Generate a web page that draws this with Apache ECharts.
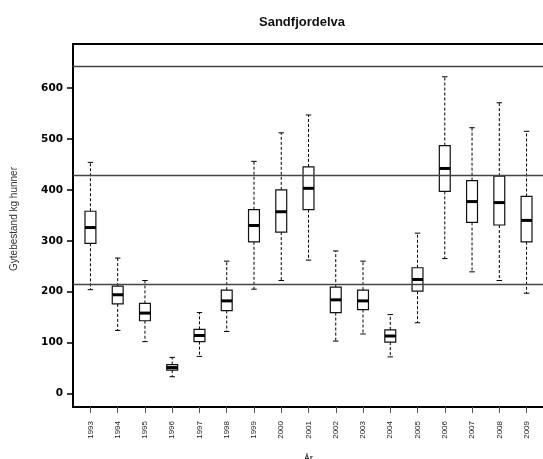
<!DOCTYPE html>
<html>
<head>
<meta charset="utf-8">
<script src="https://cdn.jsdelivr.net/npm/echarts@6/dist/echarts.min.js"></script>
<style>html,body{margin:0;padding:0;background:#fff;}#c{width:543px;height:459px;}</style>
</head>
<body>
<div id="c"></div>
<script>
var years = [1993,1994,1995,1996,1997,1998,1999,2000,2001,2002,2003,2004,2005,2006,2007,2008,2009];
var whiskerLow  = [204,124,102,33,73,122,205,222,262,103,117,72,139,265,239,222,197];
var q1          = [295,176,143,46,102,163,298,317,361,159,165,101,201,397,336,331,298];
var median      = [326,194,158,51,114,182,330,357,403,184,182,113,224,442,377,375,340];
var q3          = [358,211,177,57,126,203,361,400,445,209,203,125,247,487,418,427,387];
var whiskerHigh = [454,266,222,71,159,260,456,512,547,280,260,155,315,622,522,571,515];
var yTicks = [0,100,200,300,400,500,600];
var refLines = [214,428,642];

var boxData = years.map(function(y,i){ return [y, whiskerLow[i], q1[i], median[i], q3[i], whiskerHigh[i]]; });

var chart = echarts.init(document.getElementById('c'));
chart.setOption({
  animation:false,
  backgroundColor:'#fff',
  title:{text:'Sandfjordelva', left:297, top:11, textAlign:'center',
    textStyle:{fontFamily:'Liberation Sans', fontWeight:'bold', fontSize:13, color:'#111'}},
  graphic:[{type:'text', x:14.5, y:219, rotation:Math.PI/2,
    style:{text:'Gytebestand kg hunner', fontFamily:'Liberation Sans', fontSize:10, fill:'#333',
      textAlign:'center', textVerticalAlign:'middle'}}],
  grid:{left:73, top:44, width:471, height:363, show:true, borderColor:'#000', borderWidth:2,
    backgroundColor:'transparent', containLabel:false, outerBoundsMode:'none'},
  xAxis:{type:'value', min:1992.36, max:2009.64,
    name:'År', nameLocation:'middle', nameGap:47,
    nameTextStyle:{fontFamily:'Liberation Sans', fontSize:8, fontWeight:'bold', color:'#333'},
    axisLine:{show:false, onZero:false}, splitLine:{show:false},
    axisTick:{show:true, length:6, customValues:years, lineStyle:{color:'#555', width:1}},
    axisLabel:{rotate:90, margin:14, customValues:years, formatter:function(v){return String(v);},
      fontFamily:'Liberation Sans', fontSize:8, color:'#222'}},
  yAxis:{type:'value', min:-26.4, max:686.4,
    axisLine:{show:false, onZero:false}, splitLine:{show:false},
    axisTick:{show:true, length:6, customValues:yTicks, lineStyle:{color:'#000', width:1.5}},
    axisLabel:{margin:10, customValues:yTicks, formatter:function(v){return String(v);},
      fontFamily:'DejaVu Sans', fontWeight:'bold', fontSize:10.5, color:'#000'}},
  series:[{
    type:'custom',
    data:boxData,
    encode:{x:0, y:[1,2,3,4,5]},
    renderItem:function(params, api){
      var x = api.value(0);
      var lo = api.coord([x, api.value(1)]);
      var b1 = api.coord([x, api.value(2)]);
      var md = api.coord([x, api.value(3)]);
      var b3 = api.coord([x, api.value(4)]);
      var hi = api.coord([x, api.value(5)]);
      var bw = api.size([0.4, 0])[0];
      var cw = bw/2;
      var cx = lo[0];
      var dash = {stroke:'#000', lineWidth:1, lineDash:[3,2]};
      var solid = {stroke:'#000', lineWidth:1};
      return {type:'group', children:[
        {type:'line', shape:{x1:cx, y1:b3[1], x2:cx, y2:hi[1]}, style:dash},
        {type:'line', shape:{x1:cx, y1:b1[1], x2:cx, y2:lo[1]}, style:dash},
        {type:'line', shape:{x1:cx-cw/2, y1:hi[1], x2:cx+cw/2, y2:hi[1]}, style:solid},
        {type:'line', shape:{x1:cx-cw/2, y1:lo[1], x2:cx+cw/2, y2:lo[1]}, style:solid},
        {type:'rect', shape:{x:cx-bw/2, y:b3[1], width:bw, height:b1[1]-b3[1]}, style:{fill:'#fff', stroke:'#111', lineWidth:1.2}},
        {type:'line', shape:{x1:cx-bw/2, y1:md[1], x2:cx+bw/2, y2:md[1]}, style:{stroke:'#000', lineWidth:3}}
      ]};
    },
    markLine:{silent:true, symbol:'none', label:{show:false},
      lineStyle:{type:'solid', color:'#444', width:1.3},
      data:refLines.map(function(v){return {yAxis:v};})}
  }]
});
</script>
</body>
</html>
